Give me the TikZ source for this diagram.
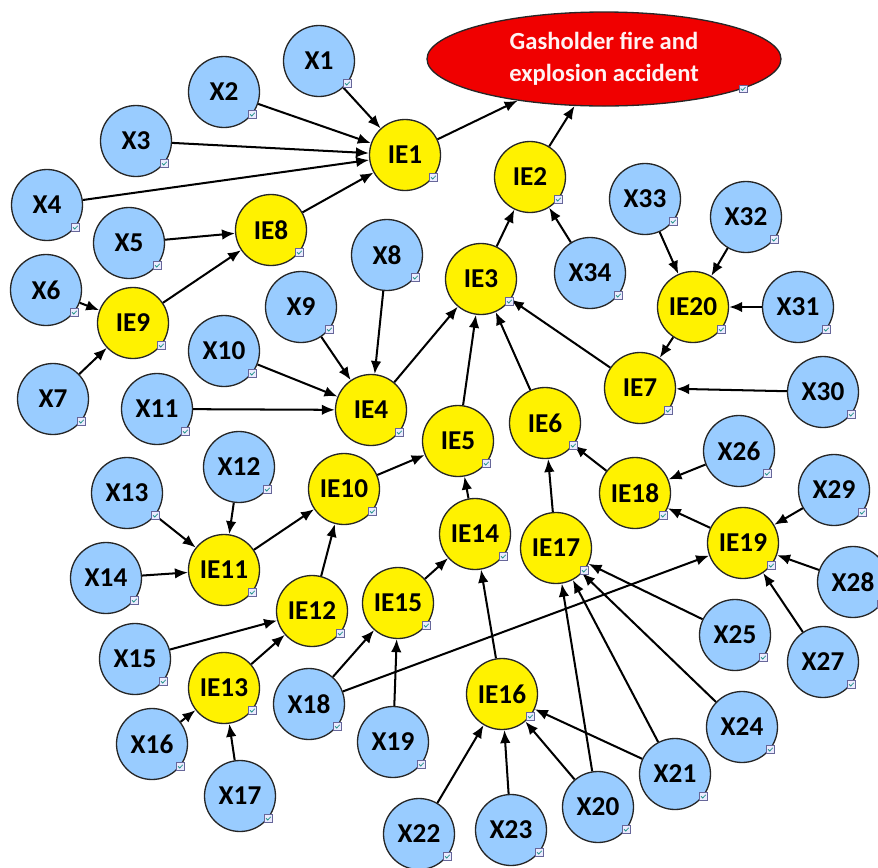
\documentclass[tikz,border=0pt]{standalone}
\usepackage{fontspec}
\setmainfont{Carlito}
\usetikzlibrary{arrows.meta,shapes.geometric}

\definecolor{basicblue}{RGB}{153,204,255}
\definecolor{topred}{RGB}{240,0,0}
\definecolor{chkgreen}{RGB}{40,150,140}

\tikzset{
  evt/.style={circle,draw=black!85,line width=0.75pt,minimum size=14.2mm,inner sep=0pt,
    font=\fontsize{15.5}{17}\selectfont\bfseries},
  basic/.style={evt,fill=basicblue},
  inter/.style={evt,fill=yellow},
  topevt/.style={ellipse,draw=black!85,line width=0.75pt,fill=topred,minimum width=70.8mm,
    minimum height=18.8mm,inner sep=0pt,align=center,text=white!95!red,
    font=\fontsize{14}{18}\selectfont\bfseries},
  link/.style={-{Latex[length=2.6mm,width=2.1mm]},line width=1.15pt},
  chkbox/.style={draw=gray!80!blue,fill=blue!8,line width=0.3pt,minimum size=1.5mm,inner sep=0pt,
    path picture={\draw[chkgreen,line width=0.45pt] (path picture bounding box.west)
      ++(0.25mm,0) -- ++(0.35mm,-0.35mm) -- ++(0.6mm,0.65mm);}}
}

\begin{document}
\begin{tikzpicture}[x=0.2mm,y=-0.2mm]
        \useasboundingbox (0,0) rectangle (878,868);

        \node[topevt] (top) at (604,59) {Gasholder fire and\\explosion accident};

        \node[inter] (IE1) at (405,155) {IE1};
        \node[inter] (IE2) at (530,177) {IE2};
        \node[inter] (IE3) at (481,279) {IE3};
        \node[inter] (IE4) at (371,410) {IE4};
        \node[inter] (IE5) at (458,441) {IE5};
        \node[inter] (IE6) at (545,423) {IE6};
        \node[inter] (IE7) at (640,388) {IE7};
        \node[inter] (IE8) at (271,230) {IE8};
        \node[inter] (IE9) at (133,323) {IE9};
        \node[inter] (IE10) at (344,489) {IE10};
        \node[inter] (IE11) at (224,570) {IE11};
        \node[inter] (IE12) at (312,611) {IE12};
        \node[inter] (IE13) at (224,688) {IE13};
        \node[inter] (IE14) at (475,534) {IE14};
        \node[inter] (IE15) at (398,603) {IE15};
        \node[inter] (IE16) at (502,694) {IE16};
        \node[inter] (IE17) at (556,548) {IE17};
        \node[inter] (IE18) at (635,493) {IE18};
        \node[inter] (IE19) at (743,543) {IE19};
        \node[inter] (IE20) at (693,307) {IE20};

        \node[basic] (X1) at (319,61) {X1};
        \node[basic] (X2) at (224,92) {X2};
        \node[basic] (X3) at (136,141) {X3};
        \node[basic] (X4) at (47,205) {X4};
        \node[basic] (X5) at (129,243) {X5};
        \node[basic] (X6) at (46,290) {X6};
        \node[basic] (X7) at (53,399) {X7};
        \node[basic] (X8) at (387,255) {X8};
        \node[basic] (X9) at (301,307) {X9};
        \node[basic] (X10) at (224,351) {X10};
        \node[basic] (X11) at (157,409) {X11};
        \node[basic] (X12) at (239,467) {X12};
        \node[basic] (X13) at (127,493) {X13};
        \node[basic] (X14) at (106,578) {X14};
        \node[basic] (X15) at (135,659) {X15};
        \node[basic] (X16) at (152,744) {X16};
        \node[basic] (X17) at (240,796) {X17};
        \node[basic] (X18) at (309,704) {X18};
        \node[basic] (X19) at (393,742) {X19};
        \node[basic] (X20) at (598,807) {X20};
        \node[basic] (X21) at (675,774) {X21};
        \node[basic] (X22) at (419,834) {X22};
        \node[basic] (X23) at (511,830) {X23};
        \node[basic] (X24) at (742,727) {X24};
        \node[basic] (X25) at (735,635) {X25};
        \node[basic] (X26) at (739,451) {X26};
        \node[basic] (X27) at (823,662) {X27};
        \node[basic] (X28) at (853,582) {X28};
        \node[basic] (X29) at (834,490) {X29};
        \node[basic] (X30) at (823,392) {X30};
        \node[basic] (X31) at (798,307) {X31};
        \node[basic] (X32) at (746,217) {X32};
        \node[basic] (X33) at (645,199) {X33};
        \node[basic] (X34) at (590,273) {X34};

        \foreach \a/\b in {IE1/top, IE2/top, IE3/IE2, X34/IE2,
            X1/IE1, X2/IE1, X3/IE1, X4/IE1, IE8/IE1, X5/IE8, IE9/IE8, X6/IE9, X7/IE9,
            IE4/IE3, IE5/IE3, IE6/IE3, IE7/IE3,
            X8/IE4, X9/IE4, X10/IE4, X11/IE4,
            X33/IE20, X32/IE20, X31/IE20, IE20/IE7, X30/IE7,
            IE10/IE5, IE14/IE5, IE18/IE6, IE17/IE6,
            X26/IE18, IE19/IE18, X29/IE19, X28/IE19, X27/IE19, X18/IE19,
            X12/IE11, X13/IE11, X14/IE11, IE11/IE10, IE12/IE10,
            X15/IE12, IE13/IE12, X16/IE13, X17/IE13,
            X18/IE15, X19/IE15, IE15/IE14, IE16/IE14,
            X22/IE16, X23/IE16, X20/IE16, X21/IE16,
            X20/IE17, X21/IE17, X24/IE17, X25/IE17}
            \draw[link] (\a) -- (\b);

        \node[chkbox] at (top.-12) {};
        \foreach \n in {1,...,20}
            \node[chkbox] at (IE\n.-38) {};
        \foreach \n in {1,...,34}
            \node[chkbox] at (X\n.-38) {};
    \end{tikzpicture}
\end{document}
